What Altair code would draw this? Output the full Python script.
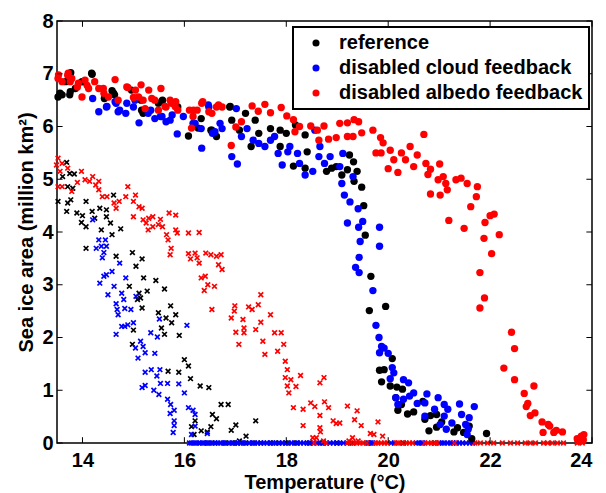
import altair as alt
import pandas as pd

series_names = ["reference", "disabled cloud feedback", "disabled albedo feedback"]
series_colors = ["#000000", "#0000ff", "#ff0000"]
x_ticks = [14, 16, 18, 20, 22, 24]
y_ticks = [0, 1, 2, 3, 4, 5, 6, 7, 8]

# ---- filled circles ----
ref_dot_t = [13.52, 13.6, 13.77, 13.67, 14.19, 14.02, 13.86, 13.75, 14.58, 14.63, 14.43, 14.96, 15.15, 15.19,
             15.49, 15.57, 15.87, 16.08, 16.33, 16.52, 16.63, 16.89, 16.93, 17.08, 17.2, 17.31, 17.39, 17.46,
             17.69, 17.88, 17.88, 18.0, 18.18, 18.37, 18.14, 18.37, 18.41, 18.79, 18.89, 18.98, 19.09, 19.24,
             19.32, 19.2, 19.33, 19.39, 19.48, 19.52, 19.55, 19.66, 19.63, 19.95, 19.83, 19.92, 19.87, 20.08,
             20.04, 20.17, 20.28, 20.15, 20.19, 20.38, 20.5, 20.26, 20.68, 20.72, 20.8, 20.83, 20.95, 20.95,
             21.05, 21.29, 21.36, 21.48, 21.59, 21.64, 21.93,
             13.56, 13.76, 14.18, 13.99, 14.61, 15.16, 15.56, 16.27, 16.54, 16.9]
ref_dot_a = [6.56, 6.6, 7.02, 6.85, 6.99, 6.85, 6.72, 6.6, 6.68, 6.6, 6.53, 6.69, 6.5, 6.25,
             6.44, 6.5, 6.37, 5.82, 6.15, 5.93, 5.81, 6.37, 6.12, 5.93, 6.25, 5.62, 6.12, 5.87,
             5.96, 5.93, 5.62, 5.87, 6.03, 5.84, 5.25, 5.21, 5.52, 5.15, 5.21, 5.24, 5.08, 5.46,
             5.33, 5.18, 4.96, 5.15, 4.85, 4.5, 3.94, 3.16, 2.51, 2.59, 1.38, 1.39, 1.16, 1.6,
             1.08, 1.06, 1.02, 0.86, 0.62, 0.55, 0.59, 0.73, 0.79, 0.45, 0.23, 0.52, 0.54, 0.3,
             0.4, 0.21, 0.29, 0.2, 0.32, 0.08, 0.18,
             6.63, 6.66, 7.01, 6.85, 6.63, 6.31, 6.47, 5.97, 5.93, 6.38]

cloud_dot_t = [14.32, 14.47, 14.2, 14.66, 14.73, 14.85, 15.0, 15.11, 15.34, 15.42, 15.53, 15.64, 15.76, 15.86,
               15.98, 16.17, 16.34, 16.33, 16.48, 16.55, 16.74, 16.93, 17.04, 17.02, 17.12, 17.23, 17.35,
               17.46, 17.58, 17.69, 17.77, 17.84, 17.92, 18.03, 18.07, 18.22, 18.26, 18.37, 18.52, 18.56,
               18.66, 18.64, 18.75, 18.86, 19.05, 19.09, 19.11, 19.14, 19.25, 19.31, 19.2, 19.41, 19.42,
               19.5, 19.45, 19.43, 19.36, 19.43, 19.83, 19.83, 19.7, 19.76, 19.82, 19.87, 19.92, 19.83,
               20.0, 20.08, 20.11, 20.04, 20.3, 20.4, 20.15, 20.3, 20.42, 20.5, 20.57, 20.19, 20.72,
               20.76, 20.72, 20.91, 20.98, 21.1, 21.17, 21.1, 21.02, 21.14, 21.25, 21.4, 21.44, 21.52,
               21.57, 21.59, 21.69, 21.55,
               14.48, 14.64, 14.7, 14.87, 15.03, 15.29, 15.56, 15.72, 16.21, 16.6, 16.7, 16.47]
cloud_dot_a = [6.28, 6.37, 6.53, 6.44, 6.31, 6.25, 6.37, 6.07, 6.31, 6.15, 6.19, 6.09, 6.22, 5.86,
               6.19, 6.06, 5.59, 5.96, 6.37, 5.87, 5.96, 5.43, 5.29, 6.34, 5.81, 5.96, 5.74,
               5.68, 5.62, 5.74, 5.81, 5.49, 5.27, 5.52, 5.62, 5.49, 5.3, 5.08, 5.15, 5.93,
               5.62, 5.43, 5.3, 5.43, 5.24, 4.92, 5.49, 4.7, 4.57, 5.05, 4.17, 4.44, 4.09,
               4.2, 3.82, 3.52, 3.33, 3.23, 4.09, 3.73, 2.89, 2.23, 2.0, 1.83, 1.8, 1.71,
               1.7, 1.43, 1.33, 1.22, 1.2, 1.14, 0.86, 0.83, 0.89, 0.95, 0.75, 0.73, 0.76,
               0.93, 0.51, 0.64, 0.86, 0.73, 0.64, 0.51, 0.35, 0.26, 0.38, 0.74, 0.54, 0.35,
               0.26, 0.48, 0.69, 0.16,
               6.38, 6.47, 6.28, 6.44, 6.5, 6.25, 6.19, 6.12, 6.06, 5.9, 6.06, 6.41]

albedo_dot_t = [13.52, 13.6, 13.71, 13.79, 13.9, 13.99, 14.09, 14.24, 14.32, 14.42, 14.64, 14.51, 14.89, 15.0,
                15.15, 15.3, 15.04, 15.19, 15.23, 15.42, 15.49, 15.64, 15.72, 15.83, 15.87, 16.1, 16.17,
                16.25, 16.36, 16.48, 16.63, 16.74, 16.92, 17.01, 17.12, 17.33, 17.45, 17.58, 17.69, 17.9,
                18.01, 18.14, 18.26, 18.17, 18.48, 18.61, 18.64, 18.74, 18.83, 18.98, 19.05, 19.2, 19.2,
                19.31, 19.33, 19.42, 19.48, 19.7, 19.85, 19.9, 19.76, 19.86, 20.04, 20.11, 20.0, 20.19,
                20.26, 20.34, 20.43, 20.5, 20.57, 20.7, 20.74, 20.83, 20.78, 21.01, 20.98, 21.08, 21.13,
                21.16, 21.02, 20.83, 21.19, 21.33, 21.43, 21.55, 21.49, 21.62, 21.75, 21.73, 21.9, 21.88,
                22.0, 22.08, 22.18, 22.03, 21.8, 21.89, 21.8, 22.42, 22.48, 22.27, 22.48, 22.67, 22.74,
                22.71, 22.86, 22.79, 22.88, 23.02, 23.14, 23.17, 23.04, 23.25, 23.3, 23.42, 23.71, 23.79,
                23.83, 23.73, 23.84,
                13.53, 13.72, 13.76, 13.92, 14.05, 14.12, 14.41, 14.7, 14.87, 15.1, 15.36, 15.54, 15.62,
                15.75, 15.82, 16.18, 16.34, 16.54, 16.67, 16.14]
albedo_dot_a = [6.91, 6.85, 6.97, 6.91, 6.75, 6.56, 6.78, 6.85, 6.72, 6.63, 6.89, 6.56, 6.74, 6.55,
                6.79, 6.69, 6.69, 6.5, 6.34, 6.5, 6.31, 6.37, 6.5, 6.47, 6.31, 6.31, 6.19,
                6.31, 6.47, 6.28, 6.37, 6.37, 5.64, 5.99, 6.09, 6.39, 6.29, 6.42, 6.26, 6.36,
                6.2, 6.13, 6.0, 5.9, 6.01, 5.93, 5.74, 6.01, 5.76, 5.79, 6.06, 6.07, 5.81,
                5.81, 6.13, 6.09, 5.88, 5.93, 5.79, 5.69, 5.5, 5.5, 5.55, 5.37, 5.2, 5.13,
                5.5, 5.37, 5.62, 5.24, 5.46, 5.85, 5.3, 5.19, 5.09, 5.29, 4.99, 5.05, 4.92,
                4.8, 4.7, 4.72, 4.22, 4.99, 5.02, 4.92, 4.07, 4.48, 4.86, 4.67, 4.18, 3.88,
                4.31, 4.34, 3.95, 3.59, 3.23, 2.75, 2.56, 2.1, 1.79, 1.42, 1.2, 0.94, 0.75,
                0.69, 1.08, 0.52, 0.57, 0.4, 0.35, 0.32, 0.2, 0.2, 0.24, 0.21, 0.08, 0.13,
                0.06, 0.04, 0.16,
                6.98, 7.01, 6.85, 6.82, 6.88, 6.72, 6.72, 6.5, 6.75, 6.56, 6.53, 6.72, 6.38,
                6.44, 6.38, 6.31, 6.44, 6.25, 6.41, 5.97]

# ---- crosses ----
ref_x_t = [13.52, 13.61, 13.69, 13.75, 13.71, 13.71, 13.69, 13.77, 13.81, 13.84, 13.89, 13.98, 14.0, 14.07,
           14.07, 14.07, 14.19, 14.24, 14.34, 14.37, 14.47, 14.47, 14.55, 14.58, 14.61, 14.66, 14.75, 14.98,
           15.05, 15.17, 15.2, 15.11, 15.14, 15.27, 15.17, 15.08, 14.92, 15.44, 15.49, 15.61, 15.64, 15.73,
           15.75, 15.83, 15.55, 15.61, 15.9, 15.0, 14.98, 16.0, 16.08, 16.12, 15.68, 15.89, 16.31, 16.48,
           16.72, 16.86, 16.55, 16.63, 16.52, 16.21, 16.14, 16.19, 16.33, 16.45, 16.92, 17.01, 17.21, 17.4,
           17.08]
ref_x_a = [4.58, 5.05, 5.32, 5.11, 4.86, 4.55, 4.39, 4.61, 4.83, 5.1, 4.36, 4.18, 4.31, 4.58,
           3.69, 4.1, 4.39, 4.26, 4.45, 4.04, 4.42, 4.29, 4.17, 3.95, 4.7, 3.54, 4.06, 3.61,
           3.35, 3.49, 3.13, 2.84, 2.75, 2.88, 2.56, 2.72, 2.97, 3.08, 2.47, 2.92, 2.37, 2.6,
           2.28, 2.43, 2.18, 2.06, 2.04, 2.14, 1.87, 1.58, 1.46, 1.22, 1.36, 1.34, 1.08, 1.05,
           0.73, 0.73, 0.54, 0.46, 0.31, 0.42, 0.31, 0.16, 0.23, 0.21, 0.24, 0.34, 0.13, 0.42,
           0.04]
ref_zero_t = [16.45, 16.6, 16.8, 16.95, 17.05, 17.2, 17.35, 17.5, 17.7, 17.85, 18.0, 18.2, 18.45, 18.7,
              19.0, 19.3, 19.6, 20.3, 20.9]

cloud_x_t = [14.2, 14.27, 14.32, 14.37, 14.42, 14.45, 14.39, 14.47, 14.34, 14.42, 14.47, 14.5, 14.58, 14.62,
             14.66, 14.68, 14.7, 14.73, 14.77, 14.81, 14.85, 14.77, 14.83, 14.89, 15.0, 14.66, 14.83, 14.95,
             15.05, 15.04, 15.14, 15.19, 15.23, 15.09, 15.34, 15.42, 15.47, 15.51, 15.35, 15.52, 15.46, 15.23,
             15.17, 15.23, 15.4, 15.5, 15.53, 15.67, 15.67, 15.73, 15.72, 15.8, 15.8, 15.8, 15.78, 15.89,
             16.0, 16.05, 16.08, 16.17, 16.21, 16.14, 16.21, 16.45]
cloud_x_a = [4.23, 3.69, 3.85, 3.73, 3.61, 3.85, 3.51, 3.73, 3.03, 3.16, 3.19, 2.81, 3.25, 2.97,
             2.64, 2.53, 2.43, 3.41, 2.84, 2.72, 3.13, 2.21, 2.21, 2.24, 2.28, 2.06, 2.55, 2.53,
             2.78, 1.8, 1.93, 1.83, 1.71, 1.61, 2.09, 1.7, 2.01, 2.35, 1.39, 1.39, 1.27, 1.34,
             1.05, 1.09, 1.0, 0.92, 1.13, 1.13, 0.83, 0.73, 0.56, 0.62, 0.42, 0.33, 0.2, 1.12,
             0.95, 2.23, 0.67, 0.62, 0.54, 0.16, 0.32, 0.18]
cloud_zero_t = [16.1, 16.14, 16.19, 16.23, 16.28, 16.31, 16.36, 16.4, 16.45, 16.49, 16.55, 16.6, 16.66, 16.71,
                16.77, 16.82, 16.88, 16.93, 16.99, 17.04, 17.1, 17.16, 17.21, 17.27, 17.33, 17.38, 17.44,
                17.5, 17.56, 17.62, 17.68, 17.74, 17.8, 17.86, 17.92, 17.98, 18.04, 18.1, 18.16, 18.22,
                18.28, 18.34, 18.41, 18.47, 18.53, 18.6, 18.66, 18.73, 18.79, 18.86, 18.92, 18.99, 19.05,
                19.12, 19.19, 19.62, 19.66, 19.7, 20.06, 20.12, 20.55, 20.6, 20.65, 20.68, 21.0, 21.06,
                21.1, 21.17, 21.22, 21.27, 21.34, 21.4, 21.46, 21.53, 21.6, 21.66]

albedo_x_t = [13.49, 13.52, 13.6, 13.56, 13.71, 13.52, 13.6, 13.79, 13.9, 13.98, 14.05, 14.14, 14.2, 14.26,
              14.32, 14.32, 14.39, 14.48, 14.62, 14.72, 14.66, 14.89, 14.85, 15.04, 15.0, 15.11, 15.17,
              15.0, 15.19, 15.25, 15.3, 15.38, 15.29, 15.38, 15.49, 15.57, 15.53, 15.7, 15.83, 15.65,
              15.68, 15.74, 15.72, 15.83, 15.86, 16.08, 16.29, 16.08, 16.12, 16.21, 16.25, 16.29, 16.33,
              16.41, 16.46, 16.39, 16.59, 16.42, 16.52, 16.63, 16.67, 16.74, 16.72, 16.54, 16.92, 16.98,
              16.99, 17.01, 17.07, 17.15, 17.17, 17.17, 17.26, 17.33, 17.4, 17.45, 17.5, 17.5, 17.54,
              17.58, 17.69, 17.77, 17.83, 17.9, 17.95, 17.98, 18.02, 17.98, 18.02, 18.05, 18.09, 18.19,
              18.28, 18.14, 18.33, 18.33, 18.48, 18.56, 18.66, 18.74, 18.66, 18.75, 18.83, 18.66, 18.67,
              18.52, 18.59, 18.73, 18.92, 18.98, 19.05, 19.2, 19.23, 19.3, 19.34, 19.39, 19.47, 19.41,
              19.65, 19.72, 19.8, 19.89]
albedo_x_a = [5.27, 5.4, 5.3, 5.15, 5.21, 4.86, 4.86, 4.77, 4.94, 5.15, 4.99, 4.96, 5.05, 4.89,
              4.96, 4.8, 4.67, 4.67, 4.55, 4.58, 4.45, 4.86, 4.67, 4.7, 4.58, 4.48, 4.45,
              4.29, 4.23, 4.17, 4.26, 4.29, 4.04, 4.1, 4.14, 4.1, 4.24, 4.36, 4.32, 3.95,
              3.85, 3.69, 3.57, 4.04, 3.98, 3.98, 3.99, 3.59, 3.49, 3.6, 3.51, 3.41, 3.13,
              3.16, 3.0, 2.89, 2.97, 3.6, 3.57, 3.54, 3.38, 3.29, 3.57, 2.53, 2.37, 2.5,
              2.6, 2.1, 1.87, 2.34, 2.18, 2.09, 2.58, 2.53, 2.15, 2.62, 2.81, 2.29, 1.93,
              1.68, 2.43, 2.09, 1.74, 2.09, 1.87, 1.55, 1.39, 1.24, 1.08, 0.95, 1.2, 1.07,
              1.28, 0.67, 0.64, 0.33, 0.76, 0.69, 1.14, 1.24, 0.52, 0.78, 0.67, 0.29, 0.21,
              0.1, 0.1, 0.04, 0.42, 0.37, 0.38, 0.7, 0.04, 0.1, 0.44, 0.61, 0.33, 0.04,
              0.18, 0.16, 0.4, 0.13]
albedo_zero_t = [18.55, 18.78, 19.2, 19.26, 19.33, 19.38, 19.45, 19.5, 19.58, 19.75, 19.8, 19.86, 19.93,
                 19.98, 20.16, 20.2, 20.27, 20.35, 20.42, 20.48, 20.72, 20.78, 20.85, 20.92, 20.96, 21.3,
                 21.7, 21.81, 21.95, 22.07, 22.24, 22.4, 22.54, 22.69, 22.79, 22.89, 23.05, 23.13, 23.22,
                 23.32, 23.44, 23.71, 23.81]


def frame(ts, as_, name):
    return pd.DataFrame({"T": ts, "A": as_, "series": name})


dots = pd.concat([
    frame(ref_dot_t, ref_dot_a, series_names[0]),
    frame(cloud_dot_t, cloud_dot_a, series_names[1]),
    frame(albedo_dot_t, albedo_dot_a, series_names[2]),
], ignore_index=True)

crosses = pd.concat([
    frame(ref_x_t, ref_x_a, series_names[0]),
    frame(ref_zero_t, [0.0] * len(ref_zero_t), series_names[0]),
    frame(cloud_x_t, cloud_x_a, series_names[1]),
    frame(cloud_zero_t, [0.0] * len(cloud_zero_t), series_names[1]),
    frame(albedo_x_t, albedo_x_a, series_names[2]),
    frame(albedo_zero_t, [0.0] * len(albedo_zero_t), series_names[2]),
], ignore_index=True)

FONT = "Liberation Sans"

xscale = alt.Scale(domain=[13.5, 24], nice=False, zero=False)
yscale = alt.Scale(domain=[0, 8], nice=False, zero=False)

xaxis = alt.Axis(values=x_ticks, title="Temperature (\u00b0C)", labelPadding=7, titlePadding=2)
yaxis = alt.Axis(values=y_ticks, title="Sea ice area (million km\u00b2)", labelPadding=4, titlePadding=5)

cross_layer = alt.Chart(crosses).mark_point(
    shape="M-1,-1L1,1M-1,1L1,-1", filled=False, size=22, strokeWidth=1.7, opacity=1
).encode(
    x=alt.X("T:Q", scale=xscale, axis=xaxis),
    y=alt.Y("A:Q", scale=yscale, axis=yaxis),
    color=alt.Color("series:N", scale=alt.Scale(domain=series_names, range=series_colors), legend=None),
)

dot_layer = alt.Chart(dots).mark_circle(size=54, opacity=1).encode(
    x=alt.X("T:Q", scale=xscale),
    y=alt.Y("A:Q", scale=yscale),
    color=alt.Color("series:N", scale=alt.Scale(domain=series_names, range=series_colors),
                    sort=series_names, legend=alt.Legend(
        title=None, orient="none", legendX=236, legendY=6, strokeColor="black", fillColor="white",
        padding=6, symbolOffset=7, labelOffset=13, rowPadding=5, labelFontSize=20, labelFont=FONT,
        labelFontWeight="bold", labelColor="black", symbolSize=50, symbolType="circle", labelLimit=400,
    )),
)

tick_df = pd.DataFrame({"xt": x_ticks})
ytick_df = pd.DataFrame({"yt": y_ticks})
tick_len_y = 0.11
tick_len_x = 0.11

xt_bottom = alt.Chart(tick_df).mark_rule(color="black", strokeWidth=1).encode(
    x="xt:Q", y=alt.datum(0), y2=alt.datum(tick_len_y))
xt_top = alt.Chart(tick_df).mark_rule(color="black", strokeWidth=1).encode(
    x="xt:Q", y=alt.datum(8), y2=alt.datum(8 - tick_len_y))
yt_left = alt.Chart(ytick_df).mark_rule(color="black", strokeWidth=1).encode(
    y="yt:Q", x=alt.datum(13.5), x2=alt.datum(13.5 + tick_len_x))
yt_right = alt.Chart(ytick_df).mark_rule(color="black", strokeWidth=1).encode(
    y="yt:Q", x=alt.datum(24), x2=alt.datum(24 - tick_len_x))

chart = alt.layer(cross_layer, dot_layer, xt_bottom, xt_top, yt_left, yt_right).resolve_scale(
    color="independent"
).resolve_legend(
    color="independent"
).properties(
    width=535, height=422,
    autosize=alt.AutoSizeParams(type="none"),
    padding={"left": 49, "top": 13, "right": 6, "bottom": 50},
).configure_view(
    stroke="black", strokeWidth=1.5
).configure_axis(
    domain=False, ticks=False, grid=False,
    labelFont=FONT, labelFontSize=20, labelFontWeight="bold", labelColor="black",
    titleFont=FONT, titleFontSize=20, titleFontWeight="bold", titleColor="black",
).configure_legend(
    strokeWidth=2
)

chart.save("out.html", embed_options={"renderer": "svg", "actions": False})
